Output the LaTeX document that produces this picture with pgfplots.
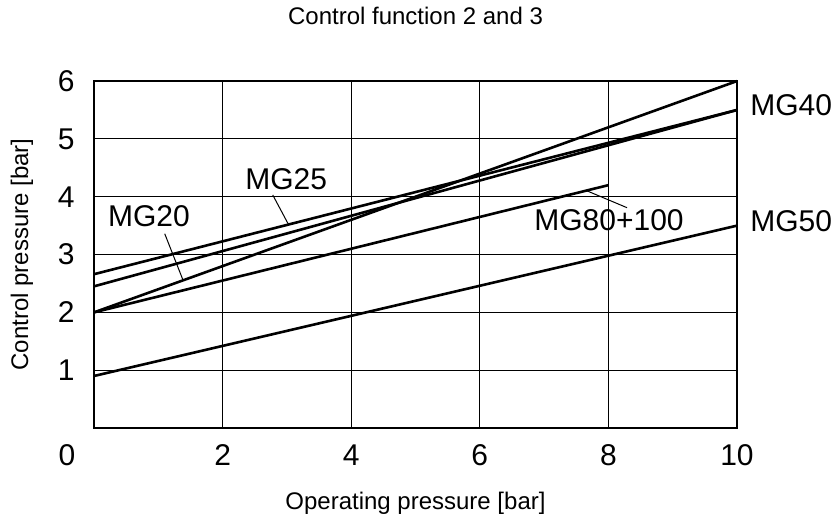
\documentclass[border=0pt]{standalone}
\usepackage{pgfplots}
\pgfplotsset{compat=1.18}
\usepackage{fontspec}
\setmainfont{Liberation Sans}
\begin{document}
\begin{tikzpicture}
\begin{axis}[
  scale only axis,
  width=321.5pt, height=173.5pt,
  xmin=0, xmax=10, ymin=0, ymax=6,
  xtick={2,4,6,8,10},
  ytick={1,2,3,4,5,6},
  extra x ticks={0},
  extra x tick style={grid=none, xticklabel style={xshift=-13.5pt}},
  grid=major,
  major grid style={black, line width=0.5pt},
  axis line style={black, line width=0.6pt},
  major tick length=0pt,
  /pgf/number format/assume math mode=true,
  tick label style={font=\fontsize{15}{18}\selectfont, inner sep=0pt},
  xticklabel style={anchor=north, yshift=-8pt},
  yticklabel style={anchor=east, xshift=-9.5pt},
  xlabel={Operating pressure [bar]},
  ylabel={Control pressure [bar]},
  title={Control function 2 and 3},
  title style={font=\fontsize{12}{14}\selectfont, at={(axis description cs:0.5,1)}, anchor=base, yshift=22.5pt},
  xlabel style={font=\fontsize{12}{14}\selectfont, at={(axis description cs:0.5,0)}, anchor=base, yshift=-40.5pt},
  ylabel style={font=\fontsize{12}{14}\selectfont, at={(axis description cs:-0.112,0.5)}, anchor=center},
  clip=false,
]
% MG25
\addplot[black, line width=1.3pt, no markers] coordinates {(0,2.66) (10,5.5)};
% second line to MG40
\addplot[black, line width=1.3pt, no markers] coordinates {(0,2.45) (10,5.5)};
% MG20
\addplot[black, line width=1.3pt, no markers] coordinates {(0,2.0) (10,6.0)};
% MG80+100
\addplot[black, line width=1.3pt, no markers] coordinates {(0,2.0) (8,4.2)};
% MG50
\addplot[black, line width=1.3pt, no markers] coordinates {(0,0.9) (10,3.5)};
% leaders
\draw[line width=0.5pt] (axis cs:1.10,3.36) -- (axis cs:1.38,2.57);
\draw[line width=0.5pt] (axis cs:2.78,4.03) -- (axis cs:3.02,3.53);
\draw[line width=0.5pt] (axis cs:7.67,4.10) -- (axis cs:8.29,3.81);
% labels
\node[font=\fontsize{15}{18}\selectfont, inner sep=0pt] at (axis cs:0.855,3.655) {MG20};
\node[font=\fontsize{15}{18}\selectfont, inner sep=0pt] at (axis cs:2.99,4.31) {MG25};
\node[font=\fontsize{15}{18}\selectfont, inner sep=0pt] at (axis cs:8.01,3.59) {MG80+100};
\node[font=\fontsize{15}{18}\selectfont, inner sep=0pt, anchor=west] at (axis cs:10.20,5.59) {MG40};
\node[font=\fontsize{15}{18}\selectfont, inner sep=0pt, anchor=west] at (axis cs:10.20,3.57) {MG50};
\end{axis}
\path ([shift={(-47pt,-43.5pt)}]current axis.south west) rectangle ([shift={(50pt,38.5pt)}]current axis.north east);
\end{tikzpicture}
\end{document}
